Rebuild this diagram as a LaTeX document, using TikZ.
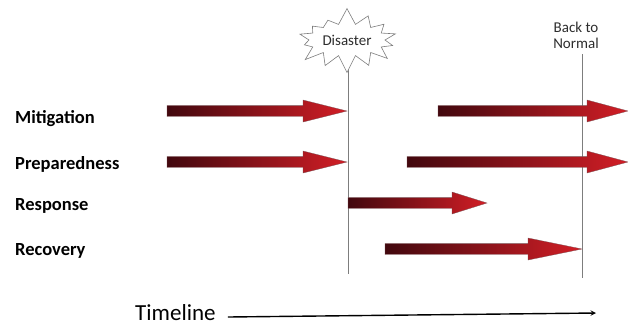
\documentclass[tikz,border=0pt]{standalone}
\usepackage{fontspec}
\setmainfont{Carlito}
\usetikzlibrary{shapes.symbols}
\definecolor{phasedark}{RGB}{66,8,14}
\definecolor{phasered}{RGB}{210,30,38}
\definecolor{markgray}{RGB}{125,125,125}
\definecolor{notegray}{RGB}{45,45,45}

\begin{document}
\begin{tikzpicture}[x=1pt, y=-1pt, >=stealth,
    phase/.style={font=\fontsize{18.5}{22}\selectfont\bfseries, anchor=base west, inner sep=0pt},
    note/.style={font=\fontsize{15}{16}\selectfont, text=notegray, align=center, inner sep=0pt},
    marker/.style={draw=markgray, line width=0.8pt}]
  \useasboundingbox (0,0) rectangle (628,325);

  % phases
  \node[phase] (mitigation)   at (15,123) {Mitigation};
  \node[phase] (preparedness) at (15,169) {Preparedness};
  \node[phase] (response)     at (15,210) {Response};
  \node[phase] (recovery)     at (15,255) {Recovery};

  % disaster and back to normal
  \coordinate (disasterend) at (348,274);
  \coordinate (normalend) at (582,278);
  \draw[marker] (348,45) -- (disasterend);
  \node[starburst, draw=markgray, fill=white, line width=0.6pt, starburst points=14,
        random starburst=7, starburst point height=17pt,
        minimum width=110pt, minimum height=66pt, note, inner sep=2pt] (disaster) at (347,40) {Disaster};
  \node[note] (normal) at (576,35) {Back to\\Normal};
  \draw[marker, shorten <=6pt] (normal.south -| normalend) -- (normalend);

  % phase arrows: y / start / head base / tip
  \foreach \y/\xa/\xb/\xc in {111/167/303/347, 111/438/587/628, 162/167/303/347,
                              162/407/587/628, 203/348/452/487, 249/385/528/582} {
    \shade[left color=phasedark, right color=phasered, draw=phasedark!70, line width=0.3pt]
      (\xa,\y-5.4) -- (\xb,\y-5.4) -- (\xb,\y-11) -- (\xc,\y)
      -- (\xb,\y+11) -- (\xb,\y+5.4) -- (\xa,\y+5.4) -- cycle;
  }

  % timeline
  \node[font=\fontsize{23}{26}\selectfont, anchor=base west, inner sep=0pt] (timeline) at (135,320) {Timeline};
  \coordinate (timeend) at (596,313);
  \draw[->, line width=1.4pt] ([shift={(12,-3)}]timeline.base east) -- (timeend);
\end{tikzpicture}
\end{document}
